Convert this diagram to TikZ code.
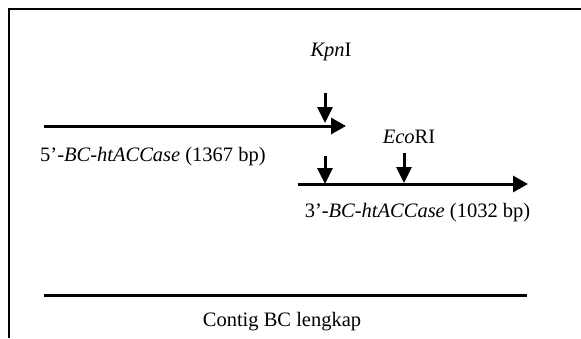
\documentclass[tikz,border=0pt]{standalone}
\usepackage{fontspec}
\setmainfont{Liberation Serif}
\usetikzlibrary{arrows.meta}
\tikzset{
  lbl/.style={inner sep=0pt, font=\fontsize{20.5}{24}\selectfont},
  dna/.style={line width=3pt, -{Triangle[length=15pt,width=16pt]}},
  cut/.style={line width=3pt, -{Triangle[length=16pt,width=15pt]}},
  frame/.style={line width=2pt},
}
\begin{document}
\begin{tikzpicture}[x=1pt,y=-1pt]
\useasboundingbox (0,0) rectangle (581,338);
% frame (top and left)
\coordinate (f1) at (8.5,338);
\coordinate (f2) at (8.5,8.5);
\coordinate (f3) at (581,8.5);
\draw[frame] (f1) -- (f2) -- (f3);
% upper fragment
\coordinate (a1) at (44,126);
\coordinate (a2) at (346,126);
\draw[dna] (a1) -- (a2);
\node[lbl, anchor=west] (lab5) at (40,157) {5’-\textit{BC-htACCase} (1367 bp)};
% KpnI
\node[lbl] (kpn) at (331,52) {\textit{Kpn}I};
\coordinate (k1) at (325,93);
\coordinate (k2) at (325,123);
\draw[cut] (k1) -- (k2);
% lower fragment
\coordinate (b1) at (298,184);
\coordinate (b2) at (528,184);
\draw[dna] (b1) -- (b2);
\node[lbl] (eco) at (409,137) {\textit{Eco}RI};
\coordinate (k3) at (325,156);
\coordinate (k4) at (325,184);
\draw[cut] (k3) -- (k4);
\coordinate (e1) at (404,153);
\coordinate (e2) at (404,183);
\draw[cut] (e1) -- (e2);
\node[lbl] (lab3) at (417.5,213) {3’-\textit{BC-htACCase} (1032 bp)};
% contig
\coordinate (c1) at (44,295.5);
\coordinate (c2) at (527,295.5);
\draw[line width=2.4pt] (c1) -- (c2);
\node[lbl] (contig) at (282,322) {Contig BC lengkap};
\end{tikzpicture}
\end{document}
